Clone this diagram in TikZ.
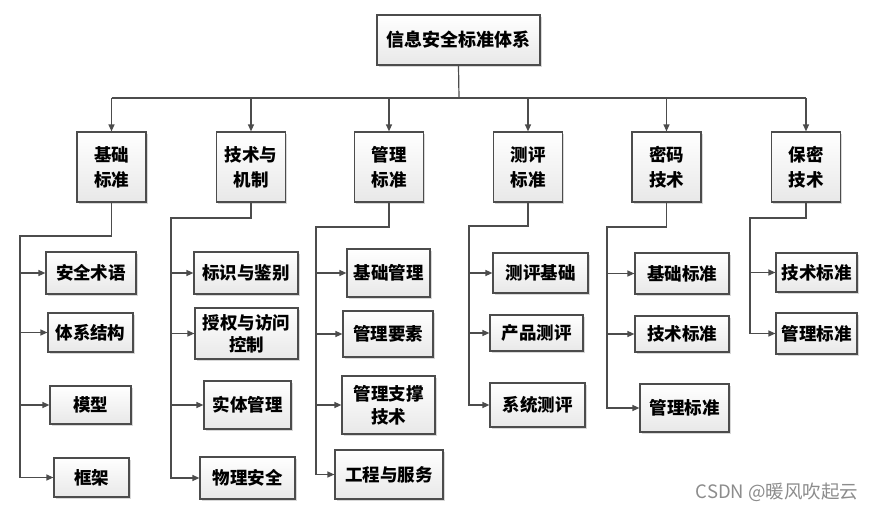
\documentclass[tikz,border=0pt]{standalone}
\usepackage{fontspec}
\newfontfamily\cjk{Noto Sans CJK SC}
\usetikzlibrary{arrows.meta,shadows}

\begin{document}
\begin{tikzpicture}[x=1pt, y=-1pt,
  box/.style={draw=black!70, line width=1.2pt, inner sep=0pt, align=center,
    top color=white, bottom color=black!9,
    drop shadow={shadow xshift=1.6pt, shadow yshift=-1.6pt, fill=black!30},
    font=\cjk\bfseries\fontsize{17.5}{25}\selectfont},
  link/.style={draw=black!70, line width=1.2pt},
  arr/.style={link, -{Triangle[length=7pt,width=6pt]}}]

  \useasboundingbox (0,0) rectangle (876,511);

  %% Root box and the bus below it.
  \node [box, minimum width=163pt, minimum height=50pt,
    font=\cjk\bfseries\fontsize{18}{24}\selectfont] (root) at (458.5,40) {信息安全标准体系};
  \coordinate (bus) at (459,98);


  %% First level boxes:
  \node [box, minimum width=69pt, minimum height=70pt] (jc) at (111.5,167) {基础\\标准};
  \node [box, minimum width=69pt, minimum height=70pt] (js) at (251,167) {技术与\\机制};
  \node [box, minimum width=69pt, minimum height=70pt] (gl) at (389,167) {管理\\标准};
  \node [box, minimum width=69pt, minimum height=70pt] (cp) at (528,167) {测评\\标准};
  \node [box, minimum width=69pt, minimum height=70pt] (mm) at (666.5,167) {密码\\技术};
  \node [box, minimum width=69pt, minimum height=70pt] (bm) at (806,167) {保密\\技术};

  \draw [link] (root.south) -- (bus);
  \draw [link] (jc.north |- bus) -- (bm.north |- bus);
  \foreach \n in {jc,js,gl,cp,mm,bm}
    \draw [arr] (\n.north |- bus) -- (\n.north);


  %% Column one (trunk at x=20)
  \node [box, minimum width=90pt, minimum height=42pt] (jc1) at (91,273) {安全术语};
  \node [box, minimum width=85pt, minimum height=39pt] (jc2) at (90.5,332.5) {体系结构};
  \node [box, minimum width=81pt, minimum height=38pt] (jc3) at (90.5,405) {模型};
  \node [box, minimum width=75pt, minimum height=39pt] (jc4) at (91.5,477.5) {框架};
  \coordinate (jct) at (20,236);
  \draw [arr] (jc.south) |- (jct) |- (jc4.west);
  \foreach \n in {jc1,jc2,jc3}
    \draw [arr] (\n.west -| jct) -- (\n.west);


  %% Column two (trunk at x=171)
  \node [box, minimum width=104pt, minimum height=42pt] (js1) at (246,273) {标识与鉴别};
  \node [box, minimum width=103pt, minimum height=51pt,
    font=\cjk\bfseries\fontsize{17.5}{22}\selectfont] (js2) at (246.5,333.5) {授权与访问\\控制};
  \node [box, minimum width=87pt, minimum height=48pt] (js3) at (247.5,405) {实体管理};
  \node [box, minimum width=95pt, minimum height=42pt] (js4) at (247.5,478) {物理安全};
  \coordinate (jst) at (171,218);
  \draw [arr] (js.south) |- (jst) |- (js4.west);
  \foreach \n in {js1,js2,js3}
    \draw [arr] (\n.west -| jst) -- (\n.west);


  %% Column three (trunk at x=316)
  \node [box, minimum width=83pt, minimum height=48pt] (gl1) at (388.5,273) {基础管理};
  \node [box, minimum width=90pt, minimum height=46pt] (gl2) at (388,334) {管理要素};
  \node [box, minimum width=93pt, minimum height=58pt,
    font=\cjk\bfseries\fontsize{17.5}{23}\selectfont] (gl3) at (388.5,405) {管理支撑\\技术};
  \node [box, minimum width=108pt, minimum height=49pt] (gl4) at (389,474.5) {工程与服务};
  \coordinate (glt) at (316,227);
  \draw [arr] (gl.south) |- (glt) |- (gl4.west);
  \foreach \n in {gl1,gl2,gl3}
    \draw [arr] (\n.west -| glt) -- (\n.west);


  %% Column four (trunk at x=469)
  \node [box, minimum width=95pt, minimum height=40pt] (cp1) at (540.5,273) {测评基础};
  \node [box, minimum width=93pt, minimum height=36pt] (cp2) at (536.5,333) {产品测评};
  \node [box, minimum width=95pt, minimum height=44pt] (cp3) at (537.5,405) {系统测评};
  \coordinate (cpt) at (469,226);
  \draw [arr] (cp.south) |- (cpt) |- (cp3.west);
  \foreach \n in {cp1,cp2}
    \draw [arr] (\n.west -| cpt) -- (\n.west);


  %% Column five (trunk at x=607)
  \node [box, minimum width=94pt, minimum height=41pt] (mm1) at (682,273.5) {基础标准};
  \node [box, minimum width=94pt, minimum height=36pt] (mm2) at (682,334) {技术标准};
  \node [box, minimum width=89pt, minimum height=48pt] (mm3) at (684.5,408) {管理标准};
  \coordinate (mmt) at (607,227);
  \draw [arr] (mm.south) |- (mmt) |- (mm3.west);
  \foreach \n in {mm1,mm2}
    \draw [arr] (\n.west -| mmt) -- (\n.west);


  %% Column six (trunk at x=750)
  \node [box, minimum width=81pt, minimum height=39pt] (bm1) at (816.5,272.5) {技术标准};
  \node [box, minimum width=81pt, minimum height=41pt] (bm2) at (816.5,333.5) {管理标准};
  \coordinate (bmt) at (750,218);
  \draw [arr] (bm.south) |- (bmt) |- (bm2.west);
  \draw [arr] (bm1.west -| bmt) -- (bm1.west);


  %% Watermark
  \node [text=black!45, font=\cjk\fontsize{18.5}{18}\selectfont] (mark) at (777,492) {CSDN @暖风吹起云};

\end{tikzpicture}
\end{document}
